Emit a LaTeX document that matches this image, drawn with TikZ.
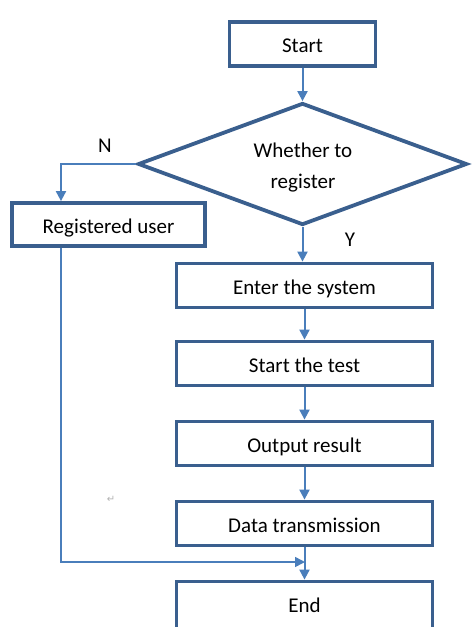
\documentclass[tikz,border=0pt]{standalone}
\usepackage{fontspec}
\setmainfont{Carlito}
\newfontfamily\symfont{DejaVu Sans}
\usetikzlibrary{shapes.geometric,arrows.meta}
\definecolor{boxblue}{HTML}{3A5F8E}
\definecolor{linkblue}{HTML}{4A7EBB}
\tikzset{
  box/.style={draw=boxblue, line width=3.8pt, rectangle, inner sep=0pt,
    font=\fontsize{21}{24}\selectfont, text height=19pt, text depth=2pt},
  mainbox/.style={box, minimum width=256pt, minimum height=44pt},
  decision/.style={draw=boxblue, line width=3.8pt, diamond, inner sep=0pt,
    minimum width=329pt, minimum height=122pt},
  dtext/.style={font=\fontsize{21}{24}\selectfont, inner sep=0pt, anchor=base},
  link/.style={draw=linkblue, line width=2pt, -{Triangle[length=10pt,width=10pt]}},
  lbl/.style={font=\fontsize{21}{24}\selectfont, inner sep=0pt, anchor=base},
}
\begin{document}
\begin{tikzpicture}[x=1pt,y=-1pt]
\useasboundingbox (0,0) rectangle (472,627);
\node[box, minimum width=146pt, minimum height=44pt] (start) at (302.5,44) {Start};
\node[decision] (dia) at (302.5,164) {};
\node[dtext] (dline1) at (303,157) {Whether to};
\node[dtext] (dline2) at (303,188) {register};
\node[box, minimum width=193pt, minimum height=43pt] (reg) at (108.5,224.5) {Registered user};
\node[mainbox] (enter) at (304.5,285.5) {Enter the system};
\node[mainbox] (test) at (304.5,363.5) {Start the test};
\node[mainbox] (out) at (304.5,443.5) {Output result};
\node[mainbox] (data) at (304.5,523.5) {Data transmission};
\node[mainbox, minimum height=52pt] (end) at (304.5,607.5) {};
\node[lbl] (endtxt) at (304.5,612) {End};
\node[lbl] (nlbl) at (105,152) {N};
\node[lbl] (ylbl) at (350,246) {Y};
\node[font=\symfont\fontsize{10}{10}\selectfont, text=gray!60, inner sep=0pt] (pmark) at (111,499) {↵};
\coordinate (merge) at (305,562);
\draw[link] (start.south) -- (dia.north);
\draw[link] (dia.west) -| ([xshift=-47.5pt]reg.north);
\draw[link] (dia.south) -- (dia.south |- enter.north);
\draw[link] (enter.south) -- (test.north);
\draw[link] (test.south) -- (out.north);
\draw[link] (out.south) -- (data.north);
\draw[link] (data.south) -- (end.north);
\draw[link, line width=1.6pt] ([xshift=-47.5pt]reg.south) |- (merge);
\end{tikzpicture}
\end{document}
